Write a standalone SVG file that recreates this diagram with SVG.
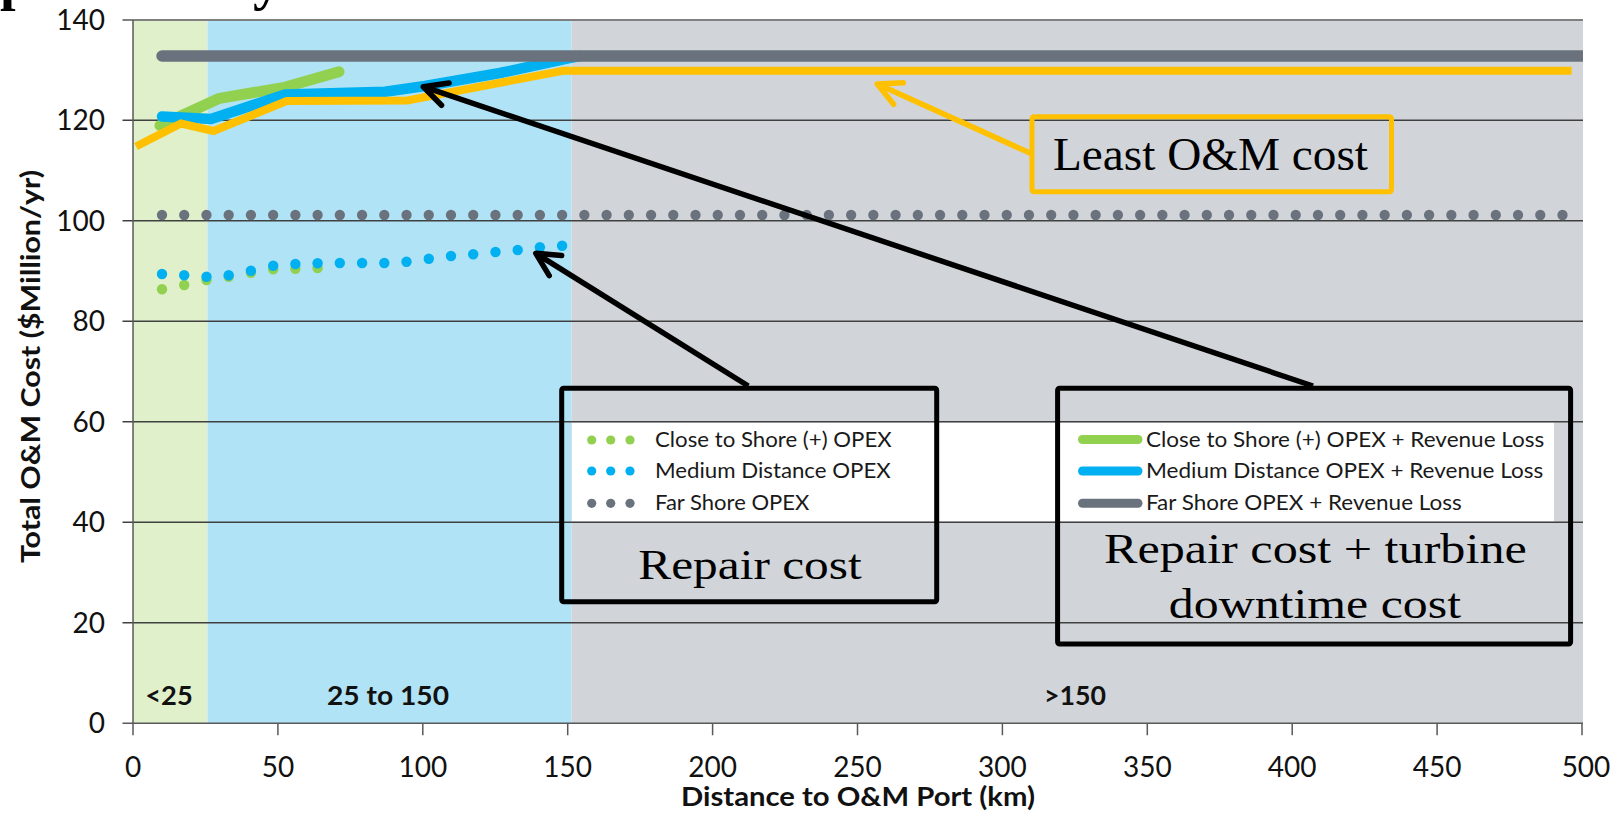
<svg xmlns="http://www.w3.org/2000/svg" width="1614" height="817" viewBox="0 0 1614 817">
<defs>
<style>
.grid{stroke:#404040;stroke-width:1.5}
.tick{font-family:Lato,"Open Sans",sans-serif;font-size:28px;fill:#111}
.ttl{font-family:Lato,"Open Sans",sans-serif;font-weight:bold;font-size:26px;fill:#111}
.band{font-family:Lato,"Open Sans",sans-serif;font-weight:bold;font-size:27px;fill:#111}
.leg{font-family:Lato,"Open Sans",sans-serif;font-size:22px;fill:#1a1a1a}
.serif{font-family:"Liberation Serif","Times New Roman",serif;fill:#000}
.bdot{fill:#00b0f0}
.gdot{fill:#92d050}
.box{fill:none;stroke:#000;stroke-width:5}
.arrow{fill:none;stroke:#000;stroke-width:5.5}
.yarrow{fill:none;stroke:#ffc000;stroke-width:5.5}
</style>
<marker id="ah" markerUnits="userSpaceOnUse" viewBox="-30 -16 34 32" markerWidth="34" markerHeight="32" refX="0" refY="0" orient="auto" overflow="visible">
<path d="M-23.2,-11.8 L0,0 L-23.2,11.8" fill="none" stroke="#000" stroke-width="5.5" stroke-linecap="round" stroke-linejoin="round"/>
</marker>
<marker id="ahy" markerUnits="userSpaceOnUse" viewBox="-30 -16 34 32" markerWidth="34" markerHeight="32" refX="0" refY="0" orient="auto" overflow="visible">
<path d="M-23.2,-11.8 L0,0 L-23.2,11.8" fill="none" stroke="#ffc000" stroke-width="5.5" stroke-linecap="round" stroke-linejoin="round"/>
</marker>
<clipPath id="plot"><rect x="133" y="19" width="1450" height="705"/></clipPath>
</defs>
<rect width="1614" height="817" fill="#fff"/>
<g class="serif" font-weight="bold" font-size="56">
<text x="0" y="-1">p</text>
<text x="253" y="-1">y</text>
</g>
<g id="bands">
<rect x="133" y="20" width="74.5" height="703.3" fill="#dff0cb"/>
<rect x="207.5" y="20" width="364" height="703.3" fill="#b0e3f5"/>
<rect x="571.5" y="20" width="1011.5" height="703.3" fill="#d1d5d9"/>
<rect x="572" y="422.5" width="982" height="99" fill="#fff"/>
</g>
<g id="grid">
<line x1="122.5" y1="20" x2="1583" y2="20" stroke="#808080" stroke-width="2"/>
<line class="grid" x1="122.5" y1="120.3" x2="1583" y2="120.3"/>
<line class="grid" x1="122.5" y1="220.8" x2="1583" y2="220.8"/>
<line class="grid" x1="122.5" y1="321.3" x2="1583" y2="321.3"/>
<line class="grid" x1="122.5" y1="421.8" x2="1583" y2="421.8"/>
<line class="grid" x1="122.5" y1="522.3" x2="1583" y2="522.3"/>
<line class="grid" x1="122.5" y1="622.8" x2="1583" y2="622.8"/>
<line x1="122.5" y1="723.3" x2="1583" y2="723.3" stroke="#595959" stroke-width="1.5"/>
<line x1="133" y1="20" x2="133" y2="724" stroke="#595959" stroke-width="1.5"/>
<path d="M133,723.3v12M277.9,723.3v12M422.8,723.3v12M567.7,723.3v12M712.6,723.3v12M857.5,723.3v12M1002.4,723.3v12M1147.3,723.3v12M1292.2,723.3v12M1437.1,723.3v12M1582,723.3v12" stroke="#595959" stroke-width="1.5"/>
</g>
<g id="y-labels" class="tick" text-anchor="end">
<text x="105" y="29.5">140</text>
<text x="105" y="130">120</text>
<text x="105" y="230.5">100</text>
<text x="105" y="331">80</text>
<text x="105" y="431.5">60</text>
<text x="105" y="532">40</text>
<text x="105" y="632.5">20</text>
<text x="105" y="733">0</text>
</g>
<g id="x-labels" class="tick" text-anchor="middle">
<text x="133" y="777">0</text>
<text x="277.9" y="777">50</text>
<text x="422.8" y="777">100</text>
<text x="567.7" y="777">150</text>
<text x="712.6" y="777">200</text>
<text x="857.5" y="777">250</text>
<text x="1002.4" y="777">300</text>
<text x="1147.3" y="777">350</text>
<text x="1292.2" y="777">400</text>
<text x="1437.1" y="777">450</text>
<text x="1586" y="777">500</text>
</g>
<text class="ttl" x="858" y="806" text-anchor="middle" textLength="354" lengthAdjust="spacingAndGlyphs">Distance to O&amp;M Port (km)</text>
<text class="ttl" transform="translate(40,366.5) rotate(-90)" text-anchor="middle" textLength="393" lengthAdjust="spacingAndGlyphs">Total O&amp;M Cost ($Million/yr)</text>
<g id="band-labels" class="band" text-anchor="middle">
<text x="169" y="705" textLength="47.5" lengthAdjust="spacingAndGlyphs">&lt;25</text>
<text x="388" y="705" textLength="122" lengthAdjust="spacingAndGlyphs">25 to 150</text>
<text x="1075" y="705" textLength="62" lengthAdjust="spacingAndGlyphs">&gt;150</text>
</g>
<g id="series" clip-path="url(#plot)">
<path d="M162,215H1563" stroke="#6a737d" stroke-width="10.3" stroke-linecap="round" stroke-dasharray="0 22.23" fill="none"/>
<g class="gdot">
<circle cx="162" cy="289.3" r="5.2"/><circle cx="184.2" cy="285" r="5.2"/><circle cx="206.5" cy="280" r="5.2"/><circle cx="228.7" cy="276.7" r="5.2"/><circle cx="250.9" cy="272.7" r="5.2"/><circle cx="273.2" cy="269.3" r="5.2"/><circle cx="295.4" cy="268.7" r="5.2"/><circle cx="317.6" cy="268" r="5.2"/>
</g>
<g class="bdot">
<circle cx="162" cy="274" r="5.2"/><circle cx="184.2" cy="275.3" r="5.2"/><circle cx="206.5" cy="276.7" r="5.2"/><circle cx="228.7" cy="275.3" r="5.2"/><circle cx="250.9" cy="270.7" r="5.2"/><circle cx="273.2" cy="265.7" r="5.2"/><circle cx="295.4" cy="264" r="5.2"/><circle cx="317.6" cy="263.3" r="5.2"/><circle cx="339.8" cy="263" r="5.2"/><circle cx="362.1" cy="263" r="5.2"/><circle cx="384.3" cy="263" r="5.2"/><circle cx="406.5" cy="261.7" r="5.2"/><circle cx="428.8" cy="258.7" r="5.2"/><circle cx="451" cy="256" r="5.2"/><circle cx="473.2" cy="254.3" r="5.2"/><circle cx="495.5" cy="252" r="5.2"/><circle cx="517.7" cy="250" r="5.2"/><circle cx="539.9" cy="247.3" r="5.2"/><circle cx="562.1" cy="245.7" r="5.2"/>
</g>
<path d="M160,125.5 L219.5,98.3 L284.7,87.3 L339,71.7" stroke="#92d050" stroke-width="11" stroke-linecap="round" stroke-linejoin="round" fill="none"/>
<path d="M162,116.5 L211,119 L285,94.5 L385,91.7 L425,86 L500,73 L567,58.5 L580,56" stroke="#00b0f0" stroke-width="10.5" stroke-linecap="round" stroke-linejoin="round" fill="none"/>
<path d="M162,56H1600" stroke="#6a737d" stroke-width="11.5" stroke-linecap="round" fill="none"/>
</g>
<path id="least-line" d="M136,146.5 L181,123.5 L213.5,131 L286.7,101 L407.3,100.5 L563,70.7 L1571.6,70.7" stroke="#ffc000" stroke-width="8" stroke-linejoin="miter" fill="none"/>
<g id="legend-left">
<g class="gdot"><circle cx="591.7" cy="440" r="4.6"/><circle cx="610.7" cy="440" r="4.6"/><circle cx="630" cy="440" r="4.6"/></g>
<g class="bdot"><circle cx="591.7" cy="471" r="4.6"/><circle cx="610.7" cy="471" r="4.6"/><circle cx="630" cy="471" r="4.6"/></g>
<g fill="#6a737d"><circle cx="591.7" cy="503.3" r="4.6"/><circle cx="610.7" cy="503.3" r="4.6"/><circle cx="630" cy="503.3" r="4.6"/></g>
<text class="leg" x="655" y="447" textLength="236.7" lengthAdjust="spacingAndGlyphs">Close to Shore (+) OPEX</text>
<text class="leg" x="655" y="478" textLength="235.7" lengthAdjust="spacingAndGlyphs">Medium Distance OPEX</text>
<text class="leg" x="655" y="509.5" textLength="154.3" lengthAdjust="spacingAndGlyphs">Far Shore OPEX</text>
</g>
<g id="legend-right">
<path d="M1082.5,439.5H1138" stroke="#92d050" stroke-width="9" stroke-linecap="round"/>
<path d="M1082.5,471H1138" stroke="#00b0f0" stroke-width="9" stroke-linecap="round"/>
<path d="M1082.5,503.3H1138" stroke="#6a737d" stroke-width="9" stroke-linecap="round"/>
<text class="leg" x="1146" y="447" textLength="398.3" lengthAdjust="spacingAndGlyphs">Close to Shore (+) OPEX + Revenue Loss</text>
<text class="leg" x="1146" y="478" textLength="397.3" lengthAdjust="spacingAndGlyphs">Medium Distance OPEX + Revenue Loss</text>
<text class="leg" x="1146" y="509.5" textLength="315.7" lengthAdjust="spacingAndGlyphs">Far Shore OPEX + Revenue Loss</text>
</g>
<g id="least-box">
<rect x="1032" y="116.7" width="359.5" height="75" rx="2" fill="none" stroke="#ffc000" stroke-width="5"/>
<text class="serif" x="1053" y="170" font-size="47" textLength="315" lengthAdjust="spacingAndGlyphs">Least O&amp;M cost</text>
</g>
<g id="repair-box">
<rect class="box" x="561.7" y="388.3" width="375" height="213.4" rx="2"/>
<text class="serif" x="638.3" y="579" font-size="43" textLength="223.4" lengthAdjust="spacingAndGlyphs">Repair cost</text>
</g>
<g id="downtime-box">
<rect class="box" x="1057.6" y="388.3" width="513" height="255.7" rx="2"/>
<text class="serif" x="1104" y="563" font-size="43" textLength="422.8" lengthAdjust="spacingAndGlyphs">Repair cost + turbine</text>
<text class="serif" x="1168.8" y="618" font-size="43" textLength="292.2" lengthAdjust="spacingAndGlyphs">downtime cost</text>
</g>
<g id="connectors">
<path class="arrow" d="M1313,386 L423.3,86.7" marker-end="url(#ah)"/>
<path class="arrow" d="M748.3,386 L535.8,253.3" marker-end="url(#ah)"/>
<path class="yarrow" d="M1031,153.5 L877.3,84" marker-end="url(#ahy)"/>
</g>
</svg>
